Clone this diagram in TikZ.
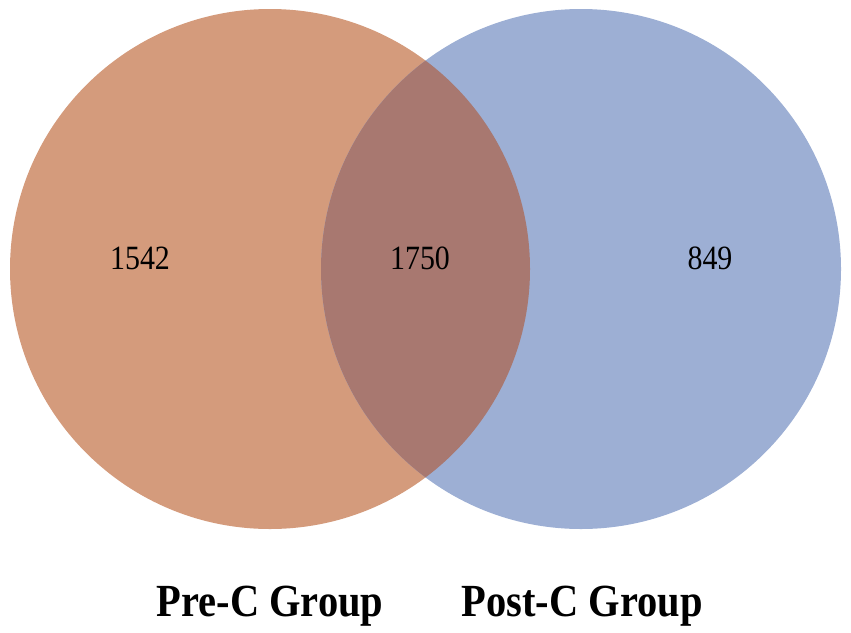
\documentclass[tikz,border=0pt]{standalone}
\usepackage{fontspec}
\setmainfont{Liberation Serif}
\definecolor{preC}{RGB}{212,155,124}
\definecolor{postC}{RGB}{157,175,212}
\definecolor{both}{RGB}{168,120,112}
\begin{document}
\begin{tikzpicture}[x=1pt,y=-1pt,
  num/.style={font=\fontsize{34}{38}\selectfont, inner sep=0pt, anchor=center, xscale=0.88},
  grp/.style={font=\fontsize{46}{50}\selectfont\bfseries, inner sep=0pt, anchor=base, xscale=0.88}]
\useasboundingbox (0,0) rectangle (851,632);
\fill[preC] (270,269) circle[radius=260];
\fill[postC] (581,269) circle[radius=260];
\begin{scope}
  \clip (270,269) circle[radius=260];
  \fill[both] (581,269) circle[radius=260];
\end{scope}
\node[num] (a) at (140,258.5) {1542};
\node[num] (b) at (420,258.5) {1750};
\node[num] (c) at (710,258.5) {849};
\node[grp] (la) at (270,616) {Pre-C Group};
\node[grp] (lb) at (582,616) {Post-C Group};
\end{tikzpicture}
\end{document}
